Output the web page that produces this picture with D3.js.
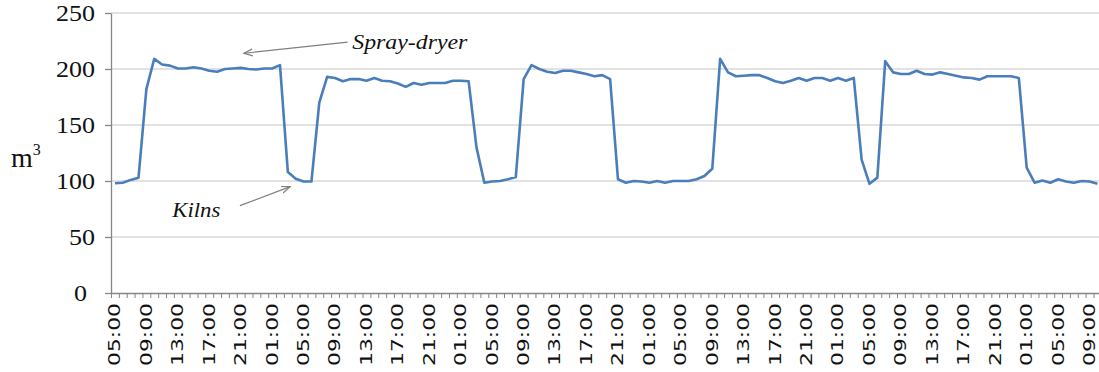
<!DOCTYPE html>
<html>
<head>
<meta charset="utf-8">
<script src="https://cdn.jsdelivr.net/npm/d3@7/dist/d3.min.js"></script>
<style>
  html, body { margin: 0; padding: 0; background: #fff; }
  svg { display: block; }
</style>
</head>
<body>
<svg id="chart" width="1099" height="372"></svg>
<script>
// Hourly categories, starting at 05:00 on the first day
const hours = [
  "05:00","06:00","07:00","08:00","09:00","10:00","11:00","12:00","13:00","14:00","15:00","16:00",
  "17:00","18:00","19:00","20:00","21:00","22:00","23:00","00:00","01:00","02:00","03:00","04:00",
  "05:00","06:00","07:00","08:00","09:00","10:00","11:00","12:00","13:00","14:00","15:00","16:00",
  "17:00","18:00","19:00","20:00","21:00","22:00","23:00","00:00","01:00","02:00","03:00","04:00",
  "05:00","06:00","07:00","08:00","09:00","10:00","11:00","12:00","13:00","14:00","15:00","16:00",
  "17:00","18:00","19:00","20:00","21:00","22:00","23:00","00:00","01:00","02:00","03:00","04:00",
  "05:00","06:00","07:00","08:00","09:00","10:00","11:00","12:00","13:00","14:00","15:00","16:00",
  "17:00","18:00","19:00","20:00","21:00","22:00","23:00","00:00","01:00","02:00","03:00","04:00",
  "05:00","06:00","07:00","08:00","09:00","10:00","11:00","12:00","13:00","14:00","15:00","16:00",
  "17:00","18:00","19:00","20:00","21:00","22:00","23:00","00:00","01:00","02:00","03:00","04:00",
  "05:00","06:00","07:00","08:00","09:00","10:00"
];

// Hourly gas volume (m3)
const volume = [
  98, 98.5, 101, 103, 182, 209, 204, 203, 200.5, 200.5, 201.5, 200.5,
  198.5, 197.5, 200, 200.5, 201, 200, 199.5, 200.5, 200.5, 203.5, 108, 102,
  99.5, 99.5, 170, 193, 192, 189, 191, 191, 189.5, 192, 189.5, 189,
  187, 184, 187.5, 186, 187.5, 187.5, 187.5, 189.5, 189.5, 189, 130, 98.5,
  99.5, 100, 101.5, 103.5, 191, 203.5, 200, 197.5, 196.5, 198.5, 198.5, 197,
  195.5, 193.5, 194.5, 191, 101.5, 98.5, 100, 99.5, 98.5, 100, 98.5, 100,
  100, 100, 101.5, 104.5, 111, 209, 197, 193.5, 194, 194.5, 194.5, 192,
  189, 187.5, 189.5, 192, 189.5, 192, 192, 189.5, 192, 189.5, 192, 119,
  97.5, 103, 207, 197, 195.5, 195.5, 198.5, 195.5, 195, 197, 195.5, 194,
  192.5, 192, 190.5, 193.5, 193.5, 193.5, 193.5, 192, 112, 98.5, 100.5, 98.5,
  101.5, 99.5, 98.5, 100, 99.5, 97.5
];

const yTicks = [0, 50, 100, 150, 200, 250];
const labelEvery = 4;

// Callouts: text anchored at (textAt, textValue), arrow from (fromAt, fromValue) to (toAt, toValue)
const callouts = [
  { text: "Spray-dryer", textAt: 30.2, textValue: 218, fromAt: 29.6, fromValue: 224, toAt: 16.4, toValue: 214, width: 115 },
  { text: "Kilns", textAt: 7.3, textValue: 68, fromAt: 15.9, fromValue: 78, toAt: 22.3, toValue: 95, width: 48 }
];

const svg = d3.select("#chart");
const plotLeft = 111, plotTop = 13, plotBottom = 293;
const step = 7.86;
const n = volume.length;
const plotRight = plotLeft + n * step;

const x = d3.scaleBand().domain(d3.range(n)).range([plotLeft, plotRight]).paddingInner(0).paddingOuter(0);
const xEdge = d3.scaleLinear().domain([0, n]).range([plotLeft, plotRight]);
const xc = i => x(i) + x.bandwidth() / 2;
const xPos = v => xEdge(v + 0.5);
const y = d3.scaleLinear().domain([0, 250]).range([plotBottom, plotTop]);

// Horizontal gridlines
svg.append("g")
  .selectAll("line")
  .data(yTicks.filter(t => t > 0))
  .join("line")
  .attr("x1", plotLeft).attr("x2", 1099)
  .attr("y1", d => y(d)).attr("y2", d => y(d))
  .attr("stroke", "#d9d9d9").attr("stroke-width", 1.3);

// Y axis
const yAxis = svg.append("g")
  .attr("transform", `translate(${plotLeft},0)`)
  .call(d3.axisLeft(y).tickValues(yTicks).tickSize(6).tickPadding(10).tickSizeOuter(0));
yAxis.select(".domain").attr("stroke", "#868686").attr("stroke-width", 1.3);
yAxis.selectAll(".tick line").attr("stroke", "#868686").attr("stroke-width", 1.3);
yAxis.selectAll(".tick text")
  .attr("font-family", "'Liberation Serif', 'Times New Roman', serif")
  .attr("font-size", 23)
  .attr("fill", "#111")
  .attr("dx", d => d === 0 ? -8 : 0)
  .attr("textLength", d => String(d).length * 13)
  .attr("lengthAdjust", "spacingAndGlyphs");

// X axis: line and hourly tick marks at category edges
const xAxis = svg.append("g")
  .attr("transform", `translate(0,${plotBottom})`)
  .call(d3.axisBottom(xEdge).tickValues(d3.range(n + 1)).tickSize(5).tickSizeOuter(0).tickFormat(""));
xAxis.select(".domain").attr("stroke", "#868686").attr("stroke-width", 1.3);
xAxis.selectAll(".tick line").attr("stroke", "#868686").attr("stroke-width", 1);

// X labels, every 4 hours, rotated
svg.append("g")
  .selectAll("text")
  .data(d3.range(n).filter(i => i % labelEvery === 0))
  .join("text")
  .attr("transform", i => `translate(${xc(i)},${plotBottom + 10}) rotate(-90)`)
  .attr("text-anchor", "end")
  .attr("dy", "0.36em")
  .attr("font-family", "'DejaVu Sans', Tahoma, sans-serif")
  .attr("font-size", 15)
  .attr("fill", "#111")
  .attr("textLength", 63)
  .attr("lengthAdjust", "spacingAndGlyphs")
  .text(i => hours[i]);

// Y axis title
const yTitle = svg.append("text")
  .attr("x", 11).attr("y", 167)
  .attr("font-family", "'Liberation Serif', 'Times New Roman', serif")
  .attr("font-size", 28)
  .attr("fill", "#111");
yTitle.append("tspan").text("m");
yTitle.append("tspan").attr("font-size", 16).attr("dy", -12).text("3");

// Series line
svg.append("path")
  .datum(volume)
  .attr("fill", "none")
  .attr("stroke", "#4a7ebb")
  .attr("stroke-width", 2.6)
  .attr("stroke-linejoin", "round")
  .attr("d", d3.line().x((d, i) => xc(i)).y(d => y(d)));

// Callout arrows
const defs = svg.append("defs");
defs.append("marker")
  .attr("id", "arrowhead")
  .attr("viewBox", "0 -5 10 10")
  .attr("refX", 9).attr("refY", 0)
  .attr("markerWidth", 10).attr("markerHeight", 10)
  .attr("markerUnits", "userSpaceOnUse")
  .attr("orient", "auto")
  .append("path")
  .attr("d", "M0,-3.5L9,0L0,3.5")
  .attr("fill", "none")
  .attr("stroke", "#7f7f7f")
  .attr("stroke-width", 1.2);

svg.append("g")
  .selectAll("line")
  .data(callouts)
  .join("line")
  .attr("x1", d => xPos(d.fromAt)).attr("y1", d => y(d.fromValue))
  .attr("x2", d => xPos(d.toAt)).attr("y2", d => y(d.toValue))
  .attr("stroke", "#7f7f7f").attr("stroke-width", 1.2)
  .attr("marker-end", "url(#arrowhead)");

svg.append("g")
  .selectAll("text")
  .data(callouts)
  .join("text")
  .attr("x", d => xPos(d.textAt)).attr("y", d => y(d.textValue))
  .attr("font-family", "'Liberation Serif', 'Times New Roman', serif")
  .attr("font-style", "italic")
  .attr("font-size", 20)
  .attr("fill", "#111")
  .attr("textLength", d => d.width)
  .attr("lengthAdjust", "spacingAndGlyphs")
  .text(d => d.text);
</script>
</body>
</html>
